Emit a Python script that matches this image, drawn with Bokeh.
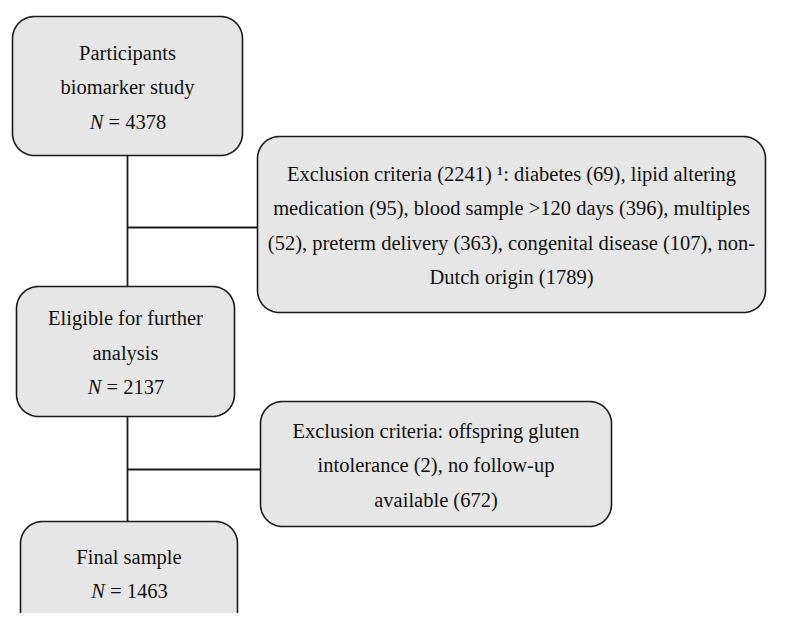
import numpy as np
from bokeh.plotting import figure
from bokeh.models import Range1d
from bokeh.core.properties import value
from bokeh.embed import file_html
from bokeh.resources import INLINE

# ---- data (texts and counts) ----
stage_titles = [
    ["Participants", "biomarker study"],
    ["Eligible for further", "analysis"],
    ["Final sample"],
]
stage_n = [4378, 2137, 1463]

exclusion_lines = [
    ["Exclusion criteria (2241) \u00b9: diabetes (69), lipid altering",
     "medication (95), blood sample >120 days (396), multiples",
     "(52), preterm delivery (363), congenital disease (107), non-",
     "Dutch origin (1789)"],
    ["Exclusion criteria: offspring gluten",
     "intolerance (2), no follow-up",
     "available (672)"],
]

# ---- layout (pixel geometry of the page) ----
stage_boxes = [(12, 242, 16, 155), (16, 234, 286, 416), (20, 237, 521, 660)]
excl_boxes = [(257, 765, 136, 312), (260, 611, 401, 526)]
trunk_x = 127
branch_y = [227, 469]
RADIUS = 22
LINE_SP = 34.5
FONT = value("Liberation Serif")
FSIZE = "20.5px"
FILL = "#e6e6e6"
EDGE = "#1a1a1a"
TXT = "#111111"

W, H = 786, 613
p = figure(width=W, height=H, output_backend="svg", toolbar_location=None,
           x_range=Range1d(0, W), y_range=Range1d(H, 0),
           min_border=0)
p.axis.visible = False
p.grid.visible = False
p.outline_line_color = None
p.background_fill_color = "white"
p.border_fill_color = "white"


def rounded(x0, x1, y0, y1, r):
    xs, ys = [], []
    corners = [(x1 - r, y0 + r, -np.pi / 2, 0), (x1 - r, y1 - r, 0, np.pi / 2),
               (x0 + r, y1 - r, np.pi / 2, np.pi), (x0 + r, y0 + r, np.pi, 1.5 * np.pi)]
    for cx, cy, a0, a1 in corners:
        t = np.linspace(a0, a1, 16)
        xs.extend(cx + r * np.cos(t))
        ys.extend(cy + r * np.sin(t))
    return list(xs), list(ys)


# connector lines
stage_bottoms = [b[3] for b in stage_boxes]
stage_tops = [b[2] for b in stage_boxes]
p.segment(x0=[trunk_x, trunk_x], y0=[stage_bottoms[0], stage_bottoms[1]],
          x1=[trunk_x, trunk_x], y1=[stage_tops[1], stage_tops[2]],
          line_color=EDGE, line_width=1.8)
p.segment(x0=[trunk_x, trunk_x], y0=branch_y,
          x1=[b[0] for b in excl_boxes], y1=branch_y,
          line_color=EDGE, line_width=1.8)

# boxes
all_boxes = stage_boxes + excl_boxes
pxs, pys = [], []
for b in all_boxes:
    xx, yy = rounded(*b, RADIUS)
    pxs.append(xx)
    pys.append(yy)
p.patches(xs=pxs, ys=pys, fill_color=FILL, line_color=EDGE, line_width=1.6)

# stage texts
tx, ty, tt = [], [], []
nx, ny, vx, vy, vt = [], [], [], [], []
for (x0, x1, y0, y1), titles, n in zip(stage_boxes, stage_titles, stage_n):
    cx = (x0 + x1) / 2
    nlines = len(titles) + 1
    if y1 > 620:
        cy = 573.5
    else:
        cy = (y0 + y1) / 2 + 1
    for i, t in enumerate(titles):
        tx.append(cx)
        ty.append(cy + (i - (nlines - 1) / 2) * LINE_SP)
        tt.append(t)
    yN = cy + (nlines - 1 - (nlines - 1) / 2) * LINE_SP
    nx.append(cx - 24)
    ny.append(yN)
    vx.append(cx - 19)
    vy.append(yN)
    vt.append("= %d" % n)

for (x0, x1, y0, y1), lines in zip(excl_boxes, exclusion_lines):
    cx = (x0 + x1) / 2
    cy = (y0 + y1) / 2 + 1
    nlines = len(lines)
    for i, t in enumerate(lines):
        tx.append(cx)
        ty.append(cy + (i - (nlines - 1) / 2) * LINE_SP)
        tt.append(t)

p.text(x=tx, y=ty, text=tt, text_font=FONT, text_font_size=FSIZE,
       text_align="center", text_baseline="middle", text_color=TXT)
p.text(x=nx, y=ny, text=["N"] * len(nx), text_font=FONT, text_font_size=FSIZE,
       text_font_style="italic", text_align="right", text_baseline="middle",
       text_color=TXT)
p.text(x=vx, y=vy, text=vt, text_font=FONT, text_font_size=FSIZE,
       text_align="left", text_baseline="middle", text_color=TXT)

open("out.html", "w").write(file_html(p, INLINE))
